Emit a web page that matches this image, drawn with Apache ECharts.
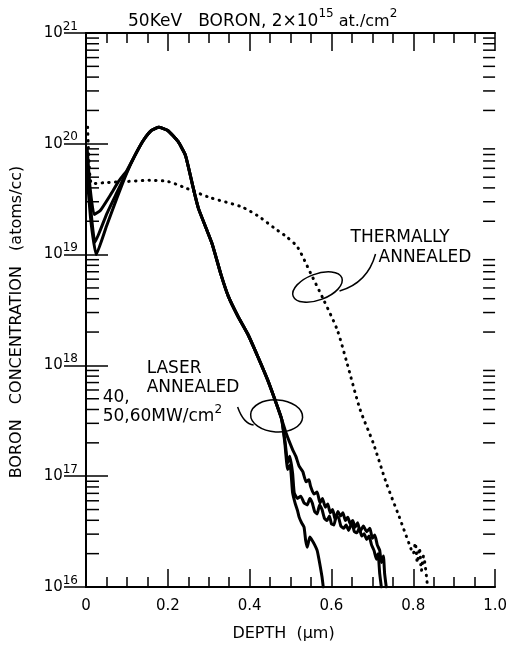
<!DOCTYPE html>
<html><head><meta charset="utf-8">
<script src="https://cdn.jsdelivr.net/npm/echarts@6/dist/echarts.min.js"></script>
<style>html,body{margin:0;padding:0;background:#fff}#c{width:510px;height:650px}</style>
</head><body><div id="c"></div>
<script>
// ---------- DATA ----------
// Depth in micrometres, boron concentration in atoms/cc
const xTickLabels = ['0', '0.2', '0.4', '0.6', '0.8', '1.0'];

// Shared part of the three laser annealed profiles
const trunkDepth = [0.12, 0.14, 0.16, 0.178, 0.2, 0.225, 0.243, 0.255, 0.265, 0.275, 0.308, 0.33, 0.348, 0.372, 0.396, 0.42, 0.444, 0.461, 0.478];
const trunkConc  = [7.9e19, 1.07e20, 1.32e20, 1.41e20, 1.32e20, 1.05e20, 7.9e19, 5.2e19, 3.6e19, 2.6e19, 1.26e19, 6.6e18, 4.2e18, 2.75e18, 1.9e18, 1.2e18, 7.4e17, 5.0e17, 3.3e17];

// Surface parts of the three laser profiles
const headADepth = [0.003, 0.01, 0.02, 0.035, 0.06, 0.08, 0.1];
const headAConc  = [8.9e19, 4.0e19, 2.3e19, 2.5e19, 3.47e19, 4.6e19, 5.75e19];
const headBDepth = [0.003, 0.012, 0.022, 0.05, 0.075, 0.1];
const headBConc  = [6.3e19, 2.5e19, 1.3e19, 2.3e19, 3.6e19, 5.6e19];
const headCDepth = [0.003, 0.012, 0.025, 0.05, 0.075, 0.1];
const headCConc  = [5.0e19, 2.0e19, 1.0e19, 1.8e19, 3.2e19, 5.5e19];

// Deep tails of the three laser profiles
const tailADepth = [0.49, 0.505, 0.513, 0.521, 0.53, 0.538, 0.545, 0.549, 0.557, 0.565, 0.572, 0.578, 0.585, 0.591, 0.597, 0.603, 0.609, 0.616, 0.622, 0.628, 0.634, 0.64, 0.646, 0.652, 0.658, 0.664, 0.670, 0.678, 0.686, 0.694, 0.70, 0.706, 0.712, 0.718, 0.722, 0.727, 0.730, 0.734];
const tailAConc  = [2.4e17, 1.74e17, 1.51e17, 1.23e17, 1.1e17, 8.9e16, 9.3e16, 8.1e16, 6.9e16, 7.2e16, 5.75e16, 6.3e16, 5.25e16, 5.6e16, 4.68e16, 5.0e16, 4.07e16, 4.79e16, 4.37e16, 4.68e16, 3.98e16, 4.27e16, 3.72e16, 3.98e16, 3.47e16, 3.8e16, 3.16e16, 3.55e16, 3.16e16, 3.39e16, 2.75e16, 2.95e16, 2.4e16, 2.14e16, 1.66e16, 1.9e16, 1.32e16, 1.0e16];
const tailBDepth = [0.487, 0.493, 0.498, 0.505, 0.509, 0.517, 0.525, 0.533, 0.541, 0.547, 0.553, 0.559, 0.565, 0.571, 0.577, 0.583, 0.589, 0.595, 0.6, 0.606, 0.612, 0.618, 0.623, 0.630, 0.636, 0.642, 0.650, 0.656, 0.662, 0.668, 0.674, 0.680, 0.686, 0.692, 0.698, 0.704, 0.710, 0.714, 0.718, 0.722];
const tailBConc  = [2.0e17, 1.32e17, 1.51e17, 1.07e17, 7.1e16, 6.3e16, 6.6e16, 5.75e16, 5.5e16, 6.3e16, 5.75e16, 4.79e16, 4.57e16, 5.5e16, 5.0e16, 4.17e16, 3.98e16, 4.37e16, 3.72e16, 3.63e16, 4.37e16, 4.17e16, 3.55e16, 3.39e16, 3.63e16, 3.24e16, 3.8e16, 3.16e16, 3.09e16, 3.39e16, 2.88e16, 3.02e16, 2.69e16, 2.88e16, 2.4e16, 2.14e16, 1.78e16, 2.0e16, 1.32e16, 1.0e16];
const tailCDepth = [0.486, 0.493, 0.499, 0.505, 0.511, 0.517, 0.521, 0.527, 0.533, 0.537, 0.541, 0.547, 0.553, 0.559, 0.565, 0.569, 0.573, 0.577, 0.580];
const tailCConc  = [2.0e17, 1.15e17, 1.26e17, 7.1e16, 5.75e16, 4.9e16, 4.27e16, 3.8e16, 3.47e16, 2.63e16, 2.29e16, 2.82e16, 2.63e16, 2.4e16, 2.14e16, 1.82e16, 1.51e16, 1.23e16, 1.0e16];

// Thermally annealed profile
const thermalDepth = [0.004, 0.008, 0.015, 0.05, 0.1, 0.155, 0.2, 0.243, 0.3, 0.38, 0.42, 0.46, 0.49, 0.517, 0.549, 0.581, 0.614, 0.638, 0.67, 0.702, 0.734, 0.766, 0.79, 0.8, 0.805, 0.81, 0.815, 0.82, 0.825, 0.835];
const thermalConc  = [1.41e20, 6.3e19, 4.37e19, 4.47e19, 4.57e19, 4.68e19, 4.57e19, 4.0e19, 3.3e19, 2.7e19, 2.24e19, 1.74e19, 1.45e19, 1.17e19, 6.8e18, 3.9e18, 2.1e18, 1.05e18, 4.0e17, 2.0e17, 8.7e16, 4.27e16, 2.45e16, 2.0e16, 2.5e16, 1.66e16, 2.24e16, 1.41e16, 1.9e16, 1.0e16];

// Annotation anchors (ellipse centres, data coordinates)
const thermalNoteAt = [0.566, 5.1e18];
const laserNoteAt = [0.466, 3.5e17];

// ---------- CHART ----------
const FONT = 'DejaVu Sans';
const chart = echarts.init(document.getElementById('c'), null, { renderer: 'canvas' });

function pairs(d, c) { return d.map((x, i) => [x, c[i]]); }
function laser(name, hd, hc, td, tc) {
  return {
    type: 'line', name: name,
    data: pairs(hd, hc).concat(pairs(trunkDepth, trunkConc)).concat(pairs(td, tc)),
    symbol: 'none', showSymbol: false, smooth: 0.15,
    lineStyle: { color: '#000', width: 3, cap: 'round', join: 'round' },
    z: 3, animation: false, silent: true
  };
}

// minor log ticks positions 2..9 x 10^n
const minorTickValues = [];
for (let e = 16; e < 21; e++) for (let k = 2; k <= 9; k++) minorTickValues.push(k * Math.pow(10, e));

// rich styles: base centred on a tall line, superscript pinned to the line top
function richSup(baseSize, supSize, raise) {
  return {
    b: { fontSize: baseSize, fontFamily: FONT, color: '#000', lineHeight: baseSize + 2 * raise, verticalAlign: 'middle' },
    c: { fontSize: baseSize - 1, fontFamily: FONT, color: '#000', lineHeight: baseSize + 2 * raise, verticalAlign: 'middle' },
    s: { fontSize: supSize, fontFamily: FONT, color: '#000', lineHeight: supSize, verticalAlign: 'top' }
  };
}

const axisLineStyle = { color: '#000', width: 2 };
const xAxisBase = {
  type: 'value', min: 0, max: 1, interval: 0.2,
  axisLine: { show: true, lineStyle: axisLineStyle },
  axisTick: { show: true, inside: true, length: 18, lineStyle: { color: '#000', width: 1.5 } },
  minorTick: { show: true, splitNumber: 4, length: 10, lineStyle: { color: '#000', width: 1.5 } },
  splitLine: { show: false }, minorSplitLine: { show: false }
};
const yAxisBase = {
  type: 'log', logBase: 10, min: 1e16, max: 1e21, splitNumber: 5,
  axisLine: { show: true, lineStyle: axisLineStyle },
  axisTick: { show: true, inside: true, length: 22, lineStyle: { color: '#000', width: 1.5 } },
  splitLine: { show: false }
};

chart.setOption({
  backgroundColor: '#fff',
  animation: false,
  title: {
    text: '{b|50KeV   BORON, 2\u00d710}{s|15}{c| at./cm}{s|2}',
    left: 128, top: 8, padding: 0,
    textStyle: { fontFamily: FONT, fontWeight: 'normal', color: '#000', rich: richSup(17, 12, 5) }
  },
  grid: { left: 86, right: 10, top: 33, bottom: 63, containLabel: false },
  xAxis: [
    Object.assign({}, xAxisBase, {
      position: 'bottom',
      name: 'DEPTH  (\u03bcm)', nameLocation: 'middle', nameGap: 39,
      nameTextStyle: { fontFamily: FONT, fontSize: 16, color: '#000', padding: [0, 14, 0, 0] },
      axisLabel: {
        show: true, margin: 12, fontFamily: FONT, fontSize: 15, color: '#000',
        formatter: function (v) { return xTickLabels[Math.round(v / 0.2)]; }
      }
    }),
    Object.assign({}, xAxisBase, { position: 'top', axisLabel: { show: false } })
  ],
  yAxis: [
    Object.assign({}, yAxisBase, {
      position: 'left',
      axisLabel: {
        show: true, margin: 8,
        formatter: function (v) { return '{b|10}{s|' + Math.round(Math.log10(v)) + '}'; },
        rich: richSup(15, 12, 5)
      }
    }),
    Object.assign({}, yAxisBase, { position: 'right', axisLabel: { show: false } })
  ],
  series: [
    laser('40 MW/cm2', headADepth, headAConc, tailADepth, tailAConc),
    laser('50 MW/cm2', headBDepth, headBConc, tailBDepth, tailBConc),
    laser('60 MW/cm2', headCDepth, headCConc, tailCDepth, tailCConc),
    {
      type: 'line', name: 'Thermally annealed',
      data: pairs(thermalDepth, thermalConc),
      symbol: 'none', showSymbol: false, smooth: 0.25,
      lineStyle: { color: '#000', width: 3, type: [0.5, 6.2], cap: 'round' },
      z: 2, animation: false, silent: true
    },
    {
      type: 'custom', name: 'minor ticks', silent: true, animation: false, clip: false,
      data: minorTickValues.map(v => [0, v]),
      renderItem: function (params, api) {
        const v = api.value(1);
        const l = api.coord([0, v]);
        const r = api.coord([1, v]);
        return {
          type: 'group', children: [
            { type: 'line', shape: { x1: l[0], y1: l[1], x2: l[0] + 13, y2: l[1] }, style: { stroke: '#000', lineWidth: 1.5 } },
            { type: 'line', shape: { x1: r[0] - 12, y1: r[1], x2: r[0], y2: r[1] }, style: { stroke: '#000', lineWidth: 1.5 } }
          ]
        };
      }
    }
  ]
});

// ---------- ANNOTATIONS ----------
const tp = chart.convertToPixel({ xAxisIndex: 0, yAxisIndex: 0 }, thermalNoteAt);
const lp = chart.convertToPixel({ xAxisIndex: 0, yAxisIndex: 0 }, laserNoteAt);
const txt = (x, y, t, size) => ({
  type: 'text', x: x, y: y, silent: true,
  style: { text: t, font: (size || 17) + 'px ' + FONT, fill: '#000', textAlign: 'left', textVerticalAlign: 'middle' }
});
const stroke = { stroke: '#000', lineWidth: 1.5, fill: null };

chart.setOption({
  graphic: [
    // y axis title
    {
      type: 'text', x: 17, y: 322, rotation: Math.PI / 2, silent: true,
      style: { text: 'BORON   CONCENTRATION   (atoms/cc)', font: '16px ' + FONT, fill: '#000', textAlign: 'center', textVerticalAlign: 'middle' }
    },
    // thermal annotation
    { type: 'ellipse', x: tp[0], y: tp[1], rotation: 0.36, shape: { cx: 0, cy: 0, rx: 26, ry: 13 }, style: stroke, silent: true },
    { type: 'bezierCurve', shape: { x1: tp[0] + 22, y1: tp[1] + 4, cpx1: tp[0] + 50, cpy1: tp[1] - 4, x2: tp[0] + 58, y2: tp[1] - 33 }, style: stroke, silent: true },
    txt(tp[0] + 33, tp[1] - 49, 'THERMALLY'),
    txt(tp[0] + 61, tp[1] - 29, 'ANNEALED'),
    // laser annotation
    { type: 'ellipse', x: lp[0], y: lp[1], rotation: -0.06, shape: { cx: 0, cy: 0, rx: 26, ry: 16 }, style: stroke, silent: true },
    { type: 'bezierCurve', shape: { x1: lp[0] - 39, y1: lp[1] - 9, cpx1: lp[0] - 33, cpy1: lp[1] + 8, x2: lp[0] - 23, y2: lp[1] + 9 }, style: stroke, silent: true },
    txt(lp[0] - 130, lp[1] - 47, 'LASER'),
    txt(lp[0] - 130, lp[1] - 28, 'ANNEALED'),
    txt(lp[0] - 174, lp[1] - 18, '40,'),
    {
      type: 'text', x: lp[0] - 174, y: lp[1] + 1, silent: true,
      style: {
        text: '{b|50,60MW/cm}{s|2}', textAlign: 'left', textVerticalAlign: 'middle',
        rich: richSup(17, 12, 5)
      }
    }
  ]
});
</script>
</body></html>
